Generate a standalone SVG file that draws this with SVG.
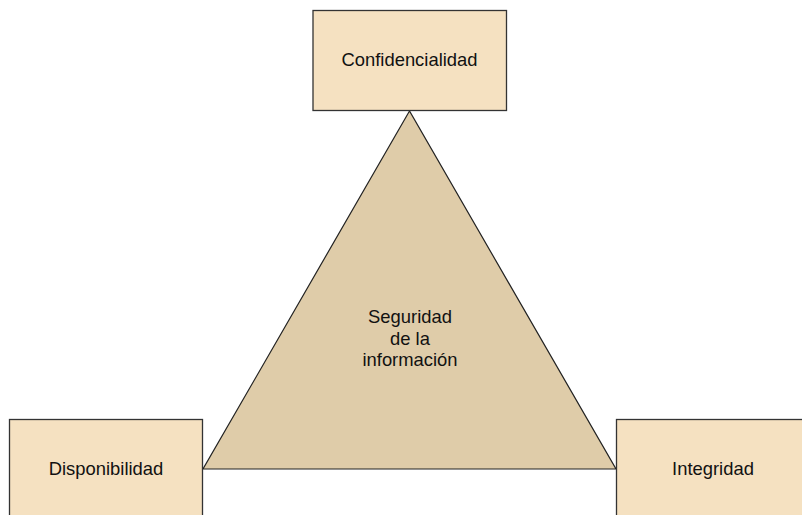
<svg xmlns="http://www.w3.org/2000/svg" width="802" height="515" viewBox="0 0 802 515">
<style>
.box{fill:#f5e1c1;stroke:#333;stroke-width:1.3}
.tri{fill:#dfcca9;stroke:#222;stroke-width:1.2}
text{font-family:"Liberation Sans",Arial,sans-serif;font-size:18.4px;fill:#111;text-anchor:middle}
</style>
<rect width="802" height="515" fill="#fff"/>
<g id="connectors"></g>
<g id="seguridad">
<polygon class="tri" points="409.5,111 203,469 616,469"/>
<text x="410" y="323">Seguridad</text>
<text x="410" y="345">de la</text>
<text x="410" y="366">información</text>
</g>
<g id="confidencialidad">
<rect class="box" x="313" y="10.5" width="193.5" height="100"/>
<text x="409.5" y="66">Confidencialidad</text>
</g>
<g id="disponibilidad">
<rect class="box" x="9.5" y="419.5" width="193" height="100"/>
<text x="106" y="475">Disponibilidad</text>
</g>
<g id="integridad">
<rect class="box" x="616.5" y="419.5" width="193" height="100"/>
<text x="713" y="475">Integridad</text>
</g>
</svg>
